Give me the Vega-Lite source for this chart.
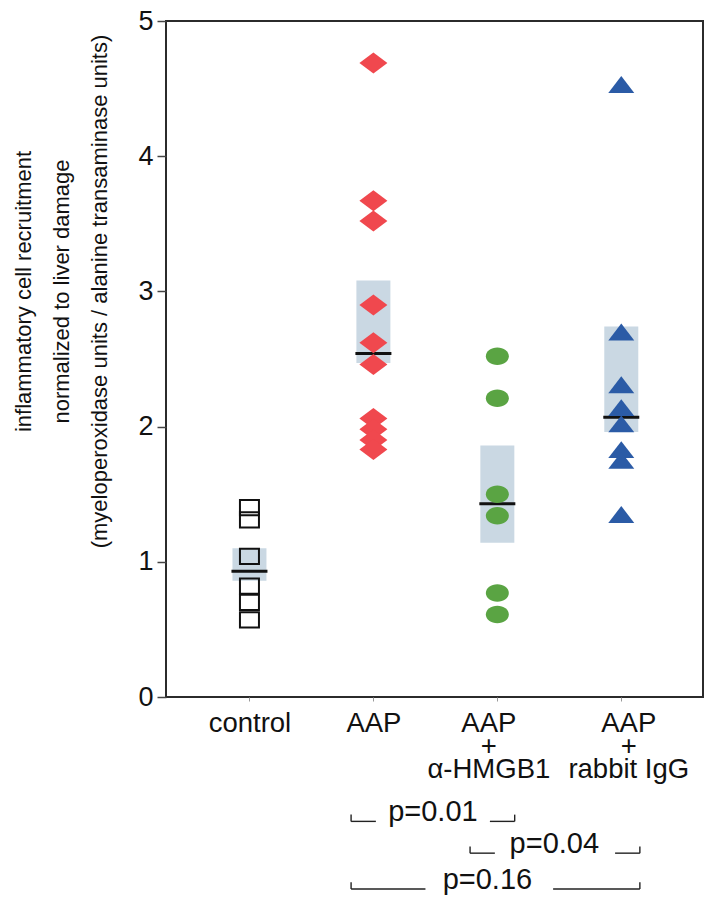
{
  "$schema": "https://vega.github.io/schema/vega-lite/v6.json",
  "width": 537,
  "height": 676,
  "autosize": {"type": "none"},
  "padding": {"left": 166, "top": 21, "right": 1, "bottom": 207},
  "background": "white",
  "config": {
    "font": "Liberation Sans",
    "view": {"stroke": "#2b2b2b", "strokeWidth": 2},
    "axis": {"grid": false, "domain": false}
  },
  "datasets": {
    "boxes": [
      {"group": "control", "pos": 1, "lo": 0.86, "hi": 1.10, "median": 0.93},
      {"group": "AAP", "pos": 2, "lo": 2.47, "hi": 3.08, "median": 2.54},
      {"group": "AAP + α-HMGB1", "pos": 3, "lo": 1.14, "hi": 1.86, "median": 1.43},
      {"group": "AAP + rabbit IgG", "pos": 4, "lo": 1.96, "hi": 2.74, "median": 2.07}
    ],
    "points": [
      {"group": "control", "pos": 1, "value": 1.40},
      {"group": "control", "pos": 1, "value": 1.31},
      {"group": "control", "pos": 1, "value": 1.04},
      {"group": "control", "pos": 1, "value": 0.82},
      {"group": "control", "pos": 1, "value": 0.70},
      {"group": "control", "pos": 1, "value": 0.57},
      {"group": "AAP", "pos": 2, "value": 4.69},
      {"group": "AAP", "pos": 2, "value": 3.67},
      {"group": "AAP", "pos": 2, "value": 3.52},
      {"group": "AAP", "pos": 2, "value": 2.90},
      {"group": "AAP", "pos": 2, "value": 2.62},
      {"group": "AAP", "pos": 2, "value": 2.46},
      {"group": "AAP", "pos": 2, "value": 2.06},
      {"group": "AAP", "pos": 2, "value": 1.98},
      {"group": "AAP", "pos": 2, "value": 1.90},
      {"group": "AAP", "pos": 2, "value": 1.83},
      {"group": "AAP + α-HMGB1", "pos": 3, "value": 2.52},
      {"group": "AAP + α-HMGB1", "pos": 3, "value": 2.21},
      {"group": "AAP + α-HMGB1", "pos": 3, "value": 1.50},
      {"group": "AAP + α-HMGB1", "pos": 3, "value": 1.34},
      {"group": "AAP + α-HMGB1", "pos": 3, "value": 0.77},
      {"group": "AAP + α-HMGB1", "pos": 3, "value": 0.61},
      {"group": "AAP + rabbit IgG", "pos": 4, "value": 4.53},
      {"group": "AAP + rabbit IgG", "pos": 4, "value": 2.70},
      {"group": "AAP + rabbit IgG", "pos": 4, "value": 2.31},
      {"group": "AAP + rabbit IgG", "pos": 4, "value": 2.14},
      {"group": "AAP + rabbit IgG", "pos": 4, "value": 2.02},
      {"group": "AAP + rabbit IgG", "pos": 4, "value": 1.83},
      {"group": "AAP + rabbit IgG", "pos": 4, "value": 1.75},
      {"group": "AAP + rabbit IgG", "pos": 4, "value": 1.35}
    ],
    "bracketLines": [
      {"pair": "AAP vs α-HMGB1", "x1": 1.82, "x2": 2.02, "y": -0.92},
      {"pair": "AAP vs α-HMGB1", "x1": 2.94, "x2": 3.14, "y": -0.92},
      {"pair": "α-HMGB1 vs IgG", "x1": 2.78, "x2": 2.98, "y": -1.155},
      {"pair": "α-HMGB1 vs IgG", "x1": 3.95, "x2": 4.15, "y": -1.155},
      {"pair": "AAP vs IgG", "x1": 1.82, "x2": 2.42, "y": -1.42},
      {"pair": "AAP vs IgG", "x1": 3.45, "x2": 4.15, "y": -1.42}
    ],
    "bracketEnds": [
      {"pair": "AAP vs α-HMGB1", "x": 1.82, "y1": -0.92, "y2": -0.87},
      {"pair": "AAP vs α-HMGB1", "x": 3.14, "y1": -0.92, "y2": -0.87},
      {"pair": "α-HMGB1 vs IgG", "x": 2.78, "y1": -1.155, "y2": -1.105},
      {"pair": "α-HMGB1 vs IgG", "x": 4.15, "y1": -1.155, "y2": -1.105},
      {"pair": "AAP vs IgG", "x": 1.82, "y1": -1.42, "y2": -1.37},
      {"pair": "AAP vs IgG", "x": 4.15, "y1": -1.42, "y2": -1.37}
    ],
    "pvalues": [
      {"pair": "AAP vs α-HMGB1", "x": 2.48, "y": -0.92, "label": "p=0.01"},
      {"pair": "α-HMGB1 vs IgG", "x": 3.46, "y": -1.155, "label": "p=0.04"},
      {"pair": "AAP vs IgG", "x": 2.92, "y": -1.42, "label": "p=0.16"}
    ]
  },
  "layer": [
    {
      "data": {"name": "boxes"},
      "mark": {"type": "bar", "orient": "vertical", "size": 34, "color": "#cad8e3"},
      "encoding": {
        "x": {
          "field": "pos", "type": "quantitative",
          "scale": {"domain": [0.367, 4.619], "nice": false, "zero": false},
          "axis": {
            "title": null,
            "values": [1, 2, 3, 4],
            "labelExpr": "datum.value == 1 ? 'control' : datum.value == 2 ? 'AAP' : datum.value == 3 ? ['AAP', '+', 'α-HMGB1'] : ['AAP', '+', 'rabbit IgG']",
            "labelFontSize": 27.5,
            "labelColor": "#111",
            "labelLineHeight": 23,
            "labelBaseline": "top",
            "labelAlign": "center",
            "labelPadding": 8,
            "labelOffset": {"condition": [{"test": "datum.value == 3", "value": -9}, {"test": "datum.value == 4", "value": 7}], "value": 0},
            "labelOverlap": false,
            "labelBound": false,
            "labelFlush": false,
            "tickSize": 4,
            "tickColor": "#999",
            "tickWidth": 1
          }
        },
        "y": {
          "field": "lo", "type": "quantitative",
          "scale": {"domain": [0, 5], "nice": false, "zero": false},
          "axis": {
            "title": ["inflammatory cell recruitment", "normalized to liver damage", "(myeloperoxidase units / alanine transaminase units)"],
            "values": [0, 1, 2, 3, 4, 5],
            "format": "d",
            "labelFontSize": 27,
            "labelColor": "#111",
            "labelPadding": 4,
            "labelFlush": false,
            "labelOverlap": false,
            "tickSize": 9,
            "tickColor": "#444",
            "tickWidth": 1.5,
            "titleFontSize": 22,
            "titleFontWeight": "normal",
            "titleColor": "#111",
            "titleLineHeight": 38,
            "titleAngle": -90,
            "titleAlign": "center",
            "titleBaseline": "middle",
            "titleX": -143,
            "titleY": 270
          }
        },
        "y2": {"field": "hi"}
      }
    },
    {
      "data": {"name": "boxes"},
      "mark": {"type": "tick", "orient": "horizontal", "size": 36, "thickness": 3, "color": "#111", "opacity": 1},
      "encoding": {
        "x": {"field": "pos", "type": "quantitative", "scale": {"domain": [0.367, 4.619], "nice": false, "zero": false}},
        "y": {"field": "median", "type": "quantitative", "scale": {"domain": [0, 5], "nice": false, "zero": false}}
      }
    },
    {
      "data": {"name": "points"},
      "transform": [{"filter": "datum.group == 'control'"}],
      "mark": {"type": "point", "shape": "M-1,-0.8L1,-0.8L1,0.8L-1,0.8Z", "size": 361, "filled": false, "stroke": "#111", "strokeWidth": 2, "opacity": 1},
      "encoding": {
        "x": {"field": "pos", "type": "quantitative", "scale": {"domain": [0.367, 4.619], "nice": false, "zero": false}},
        "y": {"field": "value", "type": "quantitative", "scale": {"domain": [0, 5], "nice": false, "zero": false}}
      }
    },
    {
      "data": {"name": "points"},
      "transform": [{"filter": "datum.group == 'AAP'"}],
      "mark": {"type": "point", "shape": "M-1,0L0,-0.75L1,0L0,0.75Z", "size": 784, "filled": true, "color": "#f0484e", "opacity": 1},
      "encoding": {
        "x": {"field": "pos", "type": "quantitative", "scale": {"domain": [0.367, 4.619], "nice": false, "zero": false}},
        "y": {"field": "value", "type": "quantitative", "scale": {"domain": [0, 5], "nice": false, "zero": false}}
      }
    },
    {
      "data": {"name": "points"},
      "transform": [{"filter": "datum.group == 'AAP + α-HMGB1'"}],
      "mark": {"type": "point", "shape": "M-1,0A1,0.76,0,1,1,1,0A1,0.76,0,1,1,-1,0Z", "size": 529, "filled": true, "color": "#5aa443", "opacity": 1},
      "encoding": {
        "x": {"field": "pos", "type": "quantitative", "scale": {"domain": [0.367, 4.619], "nice": false, "zero": false}},
        "y": {"field": "value", "type": "quantitative", "scale": {"domain": [0, 5], "nice": false, "zero": false}}
      }
    },
    {
      "data": {"name": "points"},
      "transform": [{"filter": "datum.group == 'AAP + rabbit IgG'"}],
      "mark": {"type": "point", "shape": "M-1,0.65L0,-0.65L1,0.65Z", "size": 676, "filled": true, "color": "#2b5ba6", "opacity": 1},
      "encoding": {
        "x": {"field": "pos", "type": "quantitative", "scale": {"domain": [0.367, 4.619], "nice": false, "zero": false}},
        "y": {"field": "value", "type": "quantitative", "scale": {"domain": [0, 5], "nice": false, "zero": false}}
      }
    },
    {
      "data": {"name": "bracketLines"},
      "mark": {"type": "rule", "color": "#222", "strokeWidth": 1.4},
      "encoding": {
        "x": {"field": "x1", "type": "quantitative", "scale": {"domain": [0.367, 4.619], "nice": false, "zero": false}},
        "x2": {"field": "x2"},
        "y": {"field": "y", "type": "quantitative", "scale": {"domain": [0, 5], "nice": false, "zero": false}}
      }
    },
    {
      "data": {"name": "bracketEnds"},
      "mark": {"type": "rule", "color": "#222", "strokeWidth": 1.4},
      "encoding": {
        "x": {"field": "x", "type": "quantitative", "scale": {"domain": [0.367, 4.619], "nice": false, "zero": false}},
        "y": {"field": "y1", "type": "quantitative", "scale": {"domain": [0, 5], "nice": false, "zero": false}},
        "y2": {"field": "y2"}
      }
    },
    {
      "data": {"name": "pvalues"},
      "mark": {"type": "text", "fontSize": 29, "align": "center", "baseline": "alphabetic", "color": "#111"},
      "encoding": {
        "x": {"field": "x", "type": "quantitative", "scale": {"domain": [0.367, 4.619], "nice": false, "zero": false}},
        "y": {"field": "y", "type": "quantitative", "scale": {"domain": [0, 5], "nice": false, "zero": false}},
        "text": {"field": "label"}
      }
    }
  ]
}
